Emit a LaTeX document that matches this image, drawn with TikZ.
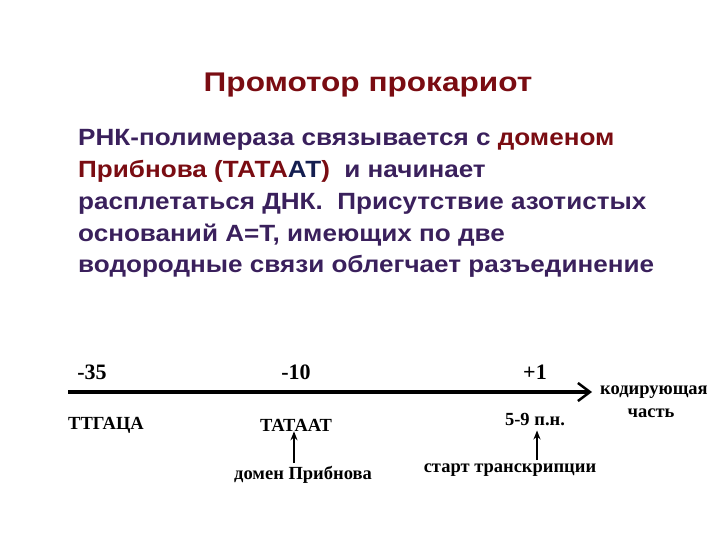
\documentclass[tikz,border=0pt]{standalone}
\usepackage{fontspec}
\setmainfont{Liberation Sans}
\newfontfamily\serifb{Liberation Serif}
\usetikzlibrary{arrows.meta}
\definecolor{titlered}{RGB}{122,12,18}
\definecolor{bodypurple}{RGB}{58,32,92}
\definecolor{navyc}{RGB}{20,30,80}
\newcommand{\wideb}[1]{\scalebox{1.11}[1]{#1}}
\tikzset{
  bodyline/.style={anchor=base west, inner sep=0pt, font=\fontsize{23.5}{28}\selectfont\bfseries, text=bodypurple},
  axlabel/.style={inner sep=0pt, font=\fontsize{22}{26}\selectfont\serifb\bfseries, text=black},
  smlabel/.style={inner sep=0pt, font=\fontsize{18.5}{22}\selectfont\serifb\bfseries, text=black},
  uparrow/.style={line width=1.6pt, -{Stealth[length=9pt,width=7pt]}}
}
\begin{document}
\begin{tikzpicture}[x=1pt,y=-1pt]
\useasboundingbox (0,0) rectangle (720,540);
\node[anchor=base, inner sep=0pt, font=\fontsize{27}{30}\selectfont\bfseries, text=titlered] (title) at (368,92) {\scalebox{1.17}[1]{Промотор прокариот}};
\node[bodyline] (l1) at (78,146) {\wideb{РНК-полимераза связывается с \textcolor{titlered}{доменом}}};
\node[bodyline] (l2) at (78,178) {\wideb{\textcolor{titlered}{Прибнова (ТАТА}\textcolor{navyc}{АТ}\textcolor{titlered}{)}\ \ и начинает}};
\node[bodyline] (l3) at (78,210) {\wideb{расплетаться ДНК.\ \ Присутствие азотистых}};
\node[bodyline] (l4) at (78,241) {\wideb{оснований А=Т, имеющих по две}};
\node[bodyline] (l5) at (78,272) {\wideb{водородные связи облегчает разъединение}};
\coordinate (axs) at (68,392);
\coordinate (axe) at (592,392);
\draw[line width=3.5pt, -{Straight Barb[length=12pt,width=18pt,line width=2.5pt]}] (axs) -- (axe);
\node[axlabel] (m35) at (92,372) {-35};
\node[axlabel] (m10) at (296,372) {-10};
\node[axlabel] (p1) at (535,372) {+1};
\node[smlabel, anchor=west] (kod) at (600,392) {кодирующая};
\node[smlabel] (chast) at (651,413) {часть};
\node[smlabel, anchor=west] (ttg) at (68,425) {ТТГАЦА};
\node[smlabel] (tataat) at (296,425) {ТАТААТ};
\node[smlabel] (bp) at (535,420) {5-9 п.н.};
\node[smlabel] (dom) at (303,475) {домен Прибнова};
\node[smlabel] (start) at (510,470) {старт транскрипции};
\coordinate (a1) at (294,463);
\coordinate (a2) at (537,460);
\draw[uparrow] (a1) -- (tataat.south -| a1);
\draw[uparrow] (a2) -- ([yshift=-4pt]bp.south -| a2);
\end{tikzpicture}
\end{document}
